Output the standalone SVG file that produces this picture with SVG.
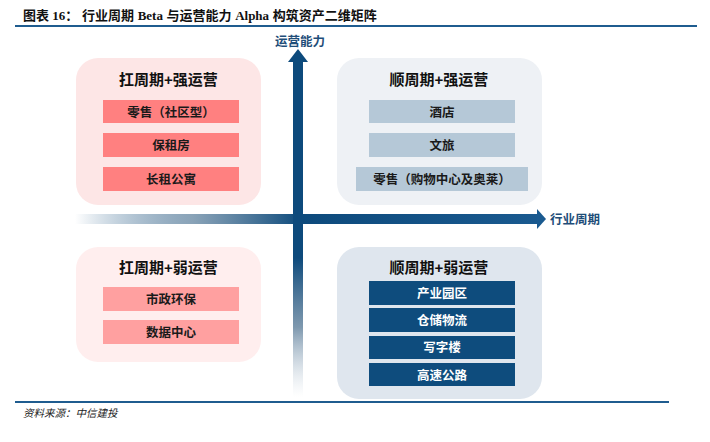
<svg xmlns="http://www.w3.org/2000/svg" width="710" height="442" viewBox="0 0 710 442">
<defs>
<style>
.cjk{font-family:"Liberation Sans","Noto Sans CJK SC",sans-serif;font-weight:bold}
.qt{font-size:15px;fill:#111;text-anchor:middle}
.it{font-size:12.5px;fill:#1a1a1a;text-anchor:middle}
.itw{font-size:12.5px;fill:#ffffff;text-anchor:middle}
.ax{font-size:12.5px;fill:#1F4E79}
.rule{stroke:#1F5C8F;stroke-width:2}
</style>
<linearGradient id="gh" x1="75" y1="0" x2="546" y2="0" gradientUnits="userSpaceOnUse">
<stop offset="0" stop-color="#0D4A7C" stop-opacity="0"/>
<stop offset="0.25" stop-color="#6C8CA6" stop-opacity="0.8"/>
<stop offset="0.48" stop-color="#0D4A7C"/>
<stop offset="1" stop-color="#1A5A90"/>
</linearGradient>
<linearGradient id="gv" x1="0" y1="49" x2="0" y2="397" gradientUnits="userSpaceOnUse">
<stop offset="0" stop-color="#0D4A7C"/>
<stop offset="0.6" stop-color="#0D4A7C"/>
<stop offset="0.8" stop-color="#5E7F9B" stop-opacity="0.8"/>
<stop offset="1" stop-color="#B9C8D6" stop-opacity="0"/>
</linearGradient>
</defs>
<rect width="710" height="442" fill="#ffffff"/>

<text x="23" y="20" class="cjk" font-size="13" fill="#111"><tspan font-family="'Liberation Serif','Noto Sans CJK SC',serif">图表 16：</tspan><tspan x="82">行业周期 </tspan><tspan font-family="'Liberation Serif',serif">Beta</tspan><tspan> 与运营能力 </tspan><tspan font-family="'Liberation Serif',serif">Alpha</tspan><tspan> 构筑资产二维矩阵</tspan></text>
<line class="rule" x1="15" y1="26" x2="697" y2="26"/>

<g id="q-top-left">
<rect x="76" y="58" width="185" height="147" rx="22" fill="#FDE6E6"/>
<text x="168.5" y="85" class="cjk qt">扛周期+强运营</text>
<rect x="103" y="100" width="136" height="23" fill="#FF8080"/>
<text x="171" y="116.5" class="cjk it">零售（社区型）</text>
<rect x="103" y="133" width="136" height="24" fill="#FF8080"/>
<text x="171" y="150" class="cjk it">保租房</text>
<rect x="103" y="167" width="136" height="24" fill="#FF8080"/>
<text x="171" y="184" class="cjk it">长租公寓</text>
</g>

<g id="q-top-right">
<rect x="337" y="58" width="205" height="147" rx="22" fill="#EEF1F5"/>
<text x="439" y="85" class="cjk qt">顺周期+强运营</text>
<rect x="369" y="100" width="146" height="23" fill="#B5C8D7"/>
<text x="442" y="116.5" class="cjk it">酒店</text>
<rect x="369" y="133" width="146" height="24" fill="#B5C8D7"/>
<text x="442" y="150" class="cjk it">文旅</text>
<rect x="356" y="167" width="172" height="24" fill="#B5C8D7"/>
<text x="442" y="184" class="cjk it">零售（购物中心及奥莱）</text>
</g>

<g id="q-bottom-left">
<rect x="76" y="247" width="185" height="115" rx="22" fill="#FFEEEE"/>
<text x="168.5" y="273" class="cjk qt">扛周期+弱运营</text>
<rect x="103" y="287" width="136" height="24" fill="#FFA0A0"/>
<text x="171" y="304" class="cjk it">市政环保</text>
<rect x="103" y="320" width="136" height="24" fill="#FFA0A0"/>
<text x="171" y="337" class="cjk it">数据中心</text>
</g>

<g id="q-bottom-right">
<rect x="337" y="247" width="205" height="152" rx="22" fill="#DFE6EE"/>
<text x="439" y="273" class="cjk qt">顺周期+弱运营</text>
<rect x="369" y="281" width="146" height="24" fill="#0E4C7D"/>
<text x="442" y="298" class="cjk itw">产业园区</text>
<rect x="369" y="308" width="146" height="24" fill="#0E4C7D"/>
<text x="442" y="325" class="cjk itw">仓储物流</text>
<rect x="369" y="336" width="146" height="23" fill="#0E4C7D"/>
<text x="442" y="352" class="cjk itw">写字楼</text>
<rect x="369" y="363" width="146" height="23" fill="#0E4C7D"/>
<text x="442" y="380" class="cjk itw">高速公路</text>
</g>

<g id="connectors">
<g id="axis-x">
<rect x="75" y="214" width="463" height="10" fill="url(#gh)"/>
<polygon points="537,209 546,219 537,229" fill="#1A5A90"/>
<text x="550" y="224" class="cjk ax">行业周期</text>
</g>
<g id="axis-y">
<rect x="293" y="61" width="10" height="336" fill="url(#gv)"/>
<polygon points="288,62 298,49 308,62" fill="#0D4A7C"/>
<text x="300" y="46" class="cjk ax" text-anchor="middle">运营能力</text>
</g>
</g>

<line class="rule" x1="15" y1="402" x2="669" y2="402"/>
<text x="23" y="417" font-family="'Liberation Serif','Noto Sans CJK SC',serif" font-style="italic" font-size="10.5" fill="#222">资料来源：中信建投</text>
</svg>
